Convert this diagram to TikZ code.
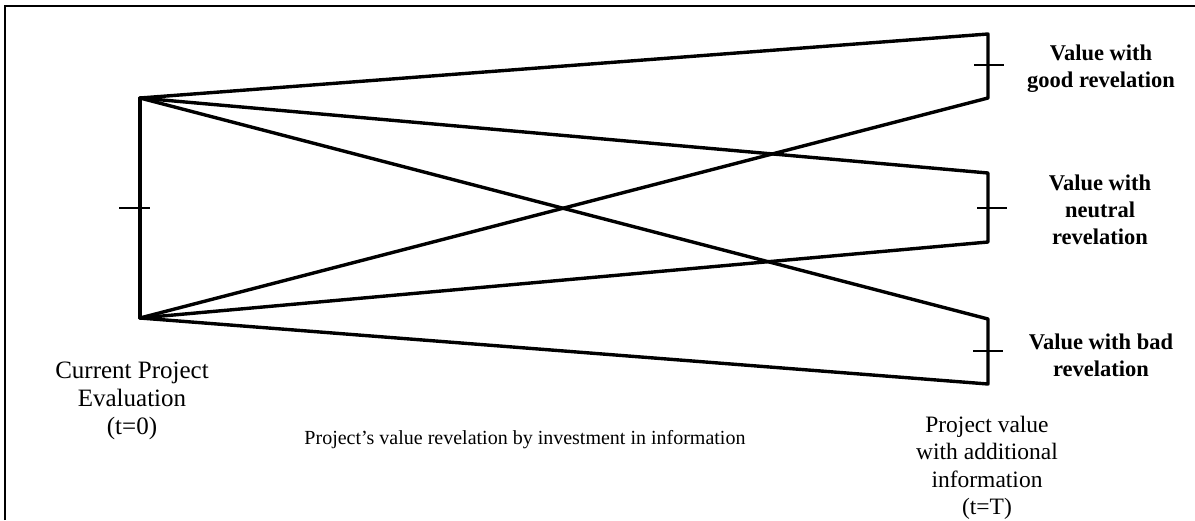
\documentclass[tikz,border=0pt]{standalone}
\usepackage{fontspec}
\setmainfont{Liberation Serif}
\begin{document}
\begin{tikzpicture}[x=1pt,y=-1pt,
  branch/.style={line width=3.4pt,line join=round,line cap=round},
  tick/.style={line width=1.5pt},
  frame/.style={line width=1.6pt},
  outcome/.style={align=center,inner sep=0pt,font=\fontsize{22.5}{27}\selectfont\bfseries},
  note/.style={align=center,inner sep=0pt,font=\fontsize{23.5}{27.5}\selectfont}]
\useasboundingbox (0,0) rectangle (1195,520);

% open frame: top and left edges only
\coordinate (fl) at (5,520);
\coordinate (fc) at (5,6);
\coordinate (fr) at (1195,6);
\draw[frame] (fl) -- (fc) -- (fr);

% current evaluation range
\coordinate (TL) at (140,98);
\coordinate (BL) at (140,318);
% revealed value ranges
\coordinate (G1) at (988,34);
\coordinate (G2) at (988,98);
\coordinate (N1) at (988,173);
\coordinate (N2) at (988,242);
\coordinate (B1) at (988,319);
\coordinate (B2) at (988,384);

\draw[branch] (TL) -- (BL);
\draw[branch] (TL) -- (G1) -- (G2) -- (BL);
\draw[branch] (TL) -- (N1) -- (N2) -- (BL);
\draw[branch] (TL) -- (B1) -- (B2) -- (BL);

% mid-point ticks
\coordinate (tL1) at (119,208);  \coordinate (tL2) at (150,208);
\coordinate (tG1) at (974,65);   \coordinate (tG2) at (1004,65);
\coordinate (tN1) at (977,208);  \coordinate (tN2) at (1007,208);
\coordinate (tB1) at (973,351);  \coordinate (tB2) at (1003,351);
\draw[tick] (tL1) -- (tL2);
\draw[tick] (tG1) -- (tG2);
\draw[tick] (tN1) -- (tN2);
\draw[tick] (tB1) -- (tB2);

% labels
\node[outcome] (good) at (1101,68.5) {Value with\\good revelation};
\node[outcome] (neutral) at (1100,209.5) {Value with\\neutral\\revelation};
\node[outcome] (bad) at (1101,355.5) {Value with bad\\revelation};
\node[note,font=\fontsize{25}{28}\selectfont] (now) at (132,401) {Current Project\\Evaluation\\(t=0)};
\node[note] (later) at (987,468) {Project value\\with additional\\information\\(t=T)};
\node[inner sep=0pt,font=\fontsize{20}{24}\selectfont] (caption) at (525,440)
  {Project’s value revelation by investment in information};
\end{tikzpicture}
\end{document}
